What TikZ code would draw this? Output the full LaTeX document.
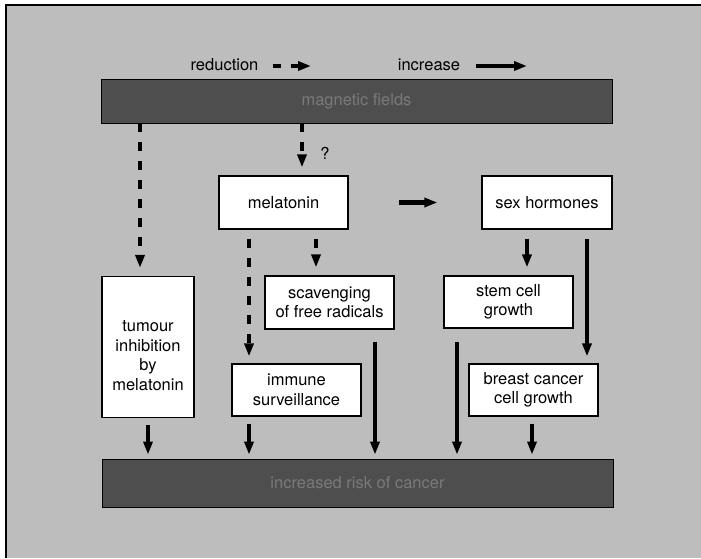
\documentclass[tikz,border=0pt]{standalone}
\usepackage{fontspec}
\setmainfont{TeX Gyre Heros}
\usetikzlibrary{arrows.meta}
\definecolor{bg}{HTML}{BDBDBD}
\definecolor{barfill}{HTML}{4E4E4E}
\definecolor{bartext}{HTML}{7A7A7A}
\begin{document}
\begin{tikzpicture}[x=1pt,y=-1pt,
  txt/.style={font=\fontsize{16.5}{19.5}\selectfont},
  box/.style={txt,draw=black,line width=1.2pt,fill=white,align=center,inner sep=0pt,minimum width=129pt,minimum height=53pt},
  barbox/.style={txt,draw=black,line width=0.8pt,fill=barfill,text=bartext,inner sep=0pt,minimum width=511pt},
  sol/.style={line width=4.5pt,-{Triangle[length=13pt,width=9pt]}},
  dsh/.style={sol,dash pattern=on 9pt off 10pt},
  lbl/.style={txt,inner sep=0pt}]
\useasboundingbox (0,0) rectangle (701,558);
\fill[white] (0,0) rectangle (701,558);
\fill[bg] (6,5) rectangle (701,558);
\draw[line width=2pt] (6,558) -- (6,5) -- (701,5);

% bars
\node[barbox,minimum height=44pt] (tb) at (356.5,101) {magnetic fields};
\node[barbox,minimum height=48pt] (bb) at (357.5,483) {increased risk of cancer};

% boxes
\node[box] (mel) at (283.5,202.5) {melatonin};
\node[box,minimum width=130pt] (sex) at (547,202.5) {sex hormones};
\node[box,minimum width=92pt,minimum height=141pt] (tum) at (148,347) {\rule{0pt}{28pt}tumour\\inhibition\\by\\melatonin};
\node[box] (sca) at (329.5,302.5) {scavenging\\of free radicals};
\node[box,minimum height=52pt] (stem) at (508.5,302) {stem cell\\growth};
\node[box,minimum height=52pt] (imm) at (296.5,390) {immune\\surveillance};
\node[box,minimum height=52pt] (bre) at (533.5,390) {breast cancer\\cell growth};

% legend
\node[lbl] (red) at (224.5,65) {reduction};
\coordinate (redT) at (311,66);
\draw[sol,line width=4pt,dash pattern=on 8pt off 10pt,shorten <=14pt] (red.east |- redT) -- (redT);
\node[lbl] (inc) at (429,65) {increase};
\coordinate (incT) at (527,66);
\draw[sol,line width=4pt,shorten <=16pt] (inc.east |- incT) -- (incT);

\node[lbl] (q) at (325,153) {?};

% columns
\coordinate (cA) at (140,0);
\coordinate (cB) at (302,0);
\coordinate (cC) at (249,0);
\coordinate (cD) at (316,0);
\coordinate (cE) at (527,0);
\coordinate (cF) at (587,0);
\coordinate (cG) at (148,0);
\coordinate (cH) at (375,0);
\coordinate (cI) at (457,0);
\coordinate (cJ) at (532,0);

% connectors
\draw[dsh,shorten >=8pt] (tb.south -| cA) -- (cA |- tum.north);
\draw[dsh,shorten >=8pt] (tb.south -| cB) -- (cB |- mel.north);
\draw[dsh,shorten <=9pt,shorten >=7pt] (mel.south -| cC) -- (cC |- imm.north);
\draw[dsh,shorten <=9pt,shorten >=8pt] (mel.south -| cD) -- (cD |- sca.north);
\draw[sol,shorten <=9pt,shorten >=8pt] (sex.south -| cE) -- (cE |- stem.north);
\draw[sol,shorten <=9pt,shorten >=7pt] (sex.south -| cF) -- (cF |- bre.north);
\draw[sol,shorten <=50pt,shorten >=44pt] (mel.east) -- (sex.west);
\draw[sol,shorten <=7pt,shorten >=4pt] (tum.south -| cG) -- (cG |- bb.north);
\draw[sol,shorten <=7pt,shorten >=4pt] (imm.south -| cC) -- (cC |- bb.north);
\draw[sol,shorten <=12pt,shorten >=4pt] (sca.south -| cH) -- (cH |- bb.north);
\draw[sol,shorten <=13pt,shorten >=4pt] (stem.south -| cI) -- (cI |- bb.north);
\draw[sol,shorten <=7pt,shorten >=4pt] (bre.south -| cJ) -- (cJ |- bb.north);
\end{tikzpicture}
\end{document}
